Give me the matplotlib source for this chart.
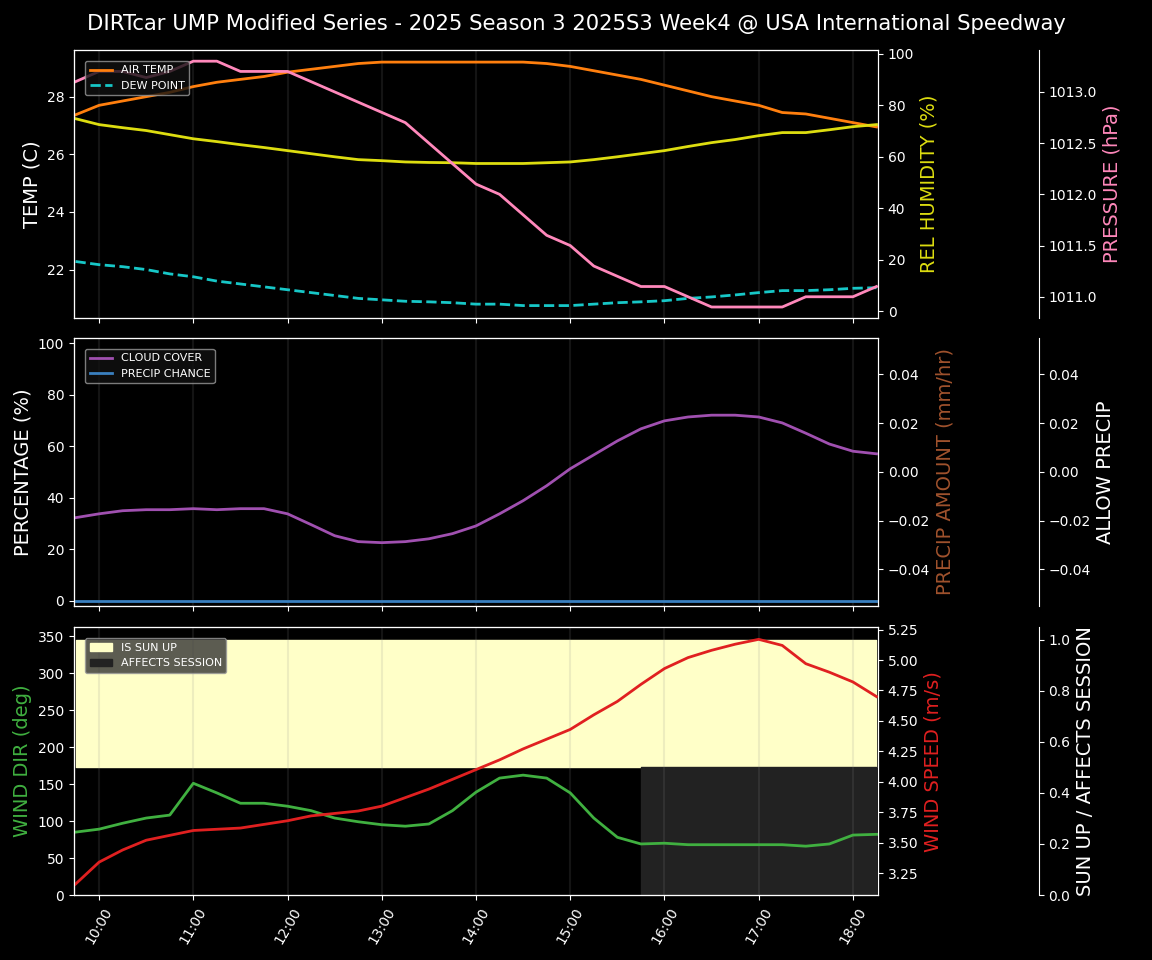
import numpy as np
import pandas as pd
import matplotlib
matplotlib.use("Agg")
import matplotlib.pyplot as plt
import matplotlib.dates as mdates

times = pd.date_range("2025-06-01 09:45", "2025-06-01 18:15", freq="15min")

air_temp = [27.37, 27.7, 27.85, 28.0, 28.15, 28.35, 28.5, 28.6, 28.7, 28.85, 28.95, 29.05, 29.15,
            29.2, 29.2, 29.2, 29.2, 29.2, 29.2, 29.2, 29.15, 29.05, 28.9, 28.75, 28.6, 28.4, 28.2,
            28.0, 27.85, 27.7, 27.45, 27.4, 27.25, 27.1, 26.95]
dew_point = [22.28, 22.17, 22.1, 22.0, 21.85, 21.75, 21.6, 21.5, 21.4, 21.3, 21.2, 21.1, 21.0,
             20.95, 20.9, 20.88, 20.85, 20.8, 20.8, 20.75, 20.75, 20.75, 20.8, 20.85, 20.88, 20.92,
             21.0, 21.05, 21.12, 21.2, 21.27, 21.27, 21.3, 21.35, 21.37]
rel_humidity = [74.8, 72.5, 71.3, 70.2, 68.6, 67.0, 65.9, 64.7, 63.6, 62.4, 61.2, 60.0, 58.9,
                58.5, 58.0, 57.8, 57.7, 57.4, 57.4, 57.4, 57.7, 58.0, 58.9, 60.0, 61.2, 62.4,
                64.0, 65.5, 66.7, 68.2, 69.4, 69.4, 70.5, 71.7, 72.5]
pressure = [1013.1, 1013.2, 1013.2, 1013.14, 1013.2, 1013.3, 1013.3, 1013.2, 1013.2, 1013.2,
            1013.1, 1013.0, 1012.9, 1012.8, 1012.7, 1012.5, 1012.3, 1012.1, 1012.0, 1011.8,
            1011.6, 1011.5, 1011.3, 1011.2, 1011.1, 1011.1, 1011.0, 1010.9, 1010.9, 1010.9,
            1010.9, 1011.0, 1011.0, 1011.0, 1011.1]
cloud_cover = [32.2, 33.7, 34.9, 35.3, 35.3, 35.7, 35.3, 35.7, 35.7, 33.7, 29.5, 25.2, 22.9,
               22.5, 22.9, 24.0, 26.0, 29.0, 33.7, 38.8, 44.6, 51.2, 56.6, 62.0, 66.7, 69.8,
               71.3, 72.0, 72.0, 71.3, 69.0, 65.0, 60.8, 58.0, 57.0]
precip_chance = [0.0] * len(times)
wind_dir = [85, 89, 97, 104, 108, 151, 138, 124, 124, 120, 114, 104, 99, 95, 93, 96, 114, 139,
            158, 162, 158, 138, 104, 78, 69, 70, 68, 68, 68, 68, 68, 66, 69, 81, 82]
wind_speed = [3.16, 3.34, 3.44, 3.52, 3.56, 3.6, 3.61, 3.62, 3.65, 3.68, 3.72, 3.74, 3.76, 3.8,
              3.87, 3.94, 4.02, 4.1, 4.18, 4.27, 4.35, 4.43, 4.55, 4.66, 4.8, 4.93, 5.02, 5.08,
              5.13, 5.17, 5.12, 4.97, 4.9, 4.82, 4.7]
is_sun_up = [1] * len(times)
affects_session = [0] * 24 + [1] * 11

plt.style.use("dark_background")
fig = plt.figure(figsize=(11.52, 9.6), dpi=100)
fig.patch.set_facecolor("black")
fig.suptitle("DIRTcar UMP Modified Series - 2025 Season 3 2025S3 Week4 @ USA International Speedway",
             fontsize=15.2, y=0.985)

L, W, H = 0.0642, 0.698, 0.279
ax1 = fig.add_axes([L, 0.669, W, H])
ax2 = fig.add_axes([L, 0.369, W, H], sharex=ax1)
ax3 = fig.add_axes([L, 0.0677, W, H], sharex=ax1)

xlim = (times[0] - pd.Timedelta(minutes=1), times[-1] + pd.Timedelta(minutes=1))
leg_kw = dict(loc="upper left", fontsize=8, edgecolor="#999999", borderaxespad=1.0)


def third(ax):
    a = ax.twinx()
    a.spines["right"].set_position(("axes", 1.2))
    return a


# top panel
l1, = ax1.plot(times, air_temp, color="#ff7f0e", lw=2, label="AIR TEMP")
l2, = ax1.plot(times, dew_point, color="#17c7c7", lw=2, ls="--", label="DEW POINT")
ax1.set_ylabel("TEMP (C)", fontsize=14)
ax1b = ax1.twinx()
ax1b.plot(times, rel_humidity, color="#dddd10", lw=2)
ax1b.set_ylim(-2.5, 101.5)
ax1b.set_ylabel("REL HUMIDITY (%)", color="#dddd10", fontsize=14)
ax1c = third(ax1)
ax1c.plot(times, pressure, color="#ff88bb", lw=2)
ax1c.set_ylim(1010.795, 1013.41)
ax1c.set_ylabel("PRESSURE (hPa)", color="#ff88bb", fontsize=14)
ax1c.legend([l1, l2], ["AIR TEMP", "DEW POINT"], facecolor="#111111", **leg_kw)

# middle panel
ax2.plot(times, cloud_cover, color="#a050b0", lw=2, label="CLOUD COVER")
ax2.plot(times, precip_chance, color="#3a80c0", lw=2, label="PRECIP CHANCE")
ax2.set_ylim(-2, 102)
ax2.set_ylabel("PERCENTAGE (%)", fontsize=14)
ax2.legend(facecolor="#111111", **leg_kw)
ax2b = ax2.twinx()
ax2b.set_ylim(-0.055, 0.055)
ax2b.set_ylabel("PRECIP AMOUNT (mm/hr)", color="#a0522d", fontsize=14)
ax2c = third(ax2)
ax2c.set_ylim(-0.055, 0.055)
ax2c.set_ylabel("ALLOW PRECIP", fontsize=14)

# bottom panel
ax3c = third(ax3)
sun = np.array(is_sun_up) * 1.0
aff = np.array(affects_session) * 1.0
ax3c.fill_between(times, 0.5, 0.5 + sun / 2, where=sun > 0, color="#ffffc8", step="post",
                  label="IS SUN UP")
ax3c.fill_between(times, 0, aff / 2, where=aff > 0, color="#222222", step="pre",
                  label="AFFECTS SESSION")
ax3c.set_ylim(0, 1.05)
ax3c.set_ylabel("SUN UP / AFFECTS SESSION", fontsize=14)
ax3c.legend(facecolor="#333333", **leg_kw)
ax3c.set_zorder(0)
ax3.set_zorder(1)
ax3.patch.set_visible(False)
ax3b = ax3.twinx()
ax3b.set_zorder(2)
ax3.plot(times, wind_dir, color="#40b040", lw=2)
ax3.set_ylim(0, 362)
ax3.set_ylabel("WIND DIR (deg)", color="#40b040", fontsize=14)
ax3b.plot(times, wind_speed, color="#e02020", lw=2)
ax3b.set_ylim(3.07, 5.27)
ax3b.set_ylabel("WIND SPEED (m/s)", color="#e02020", fontsize=14)
leg = ax3c.get_legend()
leg.remove()
ax3b.add_artist(leg)

for ax in (ax1, ax2, ax3):
    ax.set_xlim(*xlim)
    ax.set_facecolor("black")
    ax.xaxis.set_major_locator(mdates.HourLocator())
    ax.xaxis.set_major_formatter(mdates.DateFormatter("%H:%M"))
    ax.grid(axis="x", color="#888888", alpha=0.15, lw=1.5)
    ax.tick_params(labelsize=10)
for ax in (ax1, ax2):
    plt.setp(ax.get_xticklabels(), visible=False)
plt.setp(ax3.get_xticklabels(), rotation=60)

fig.savefig("out.png", dpi=100, facecolor="black")
